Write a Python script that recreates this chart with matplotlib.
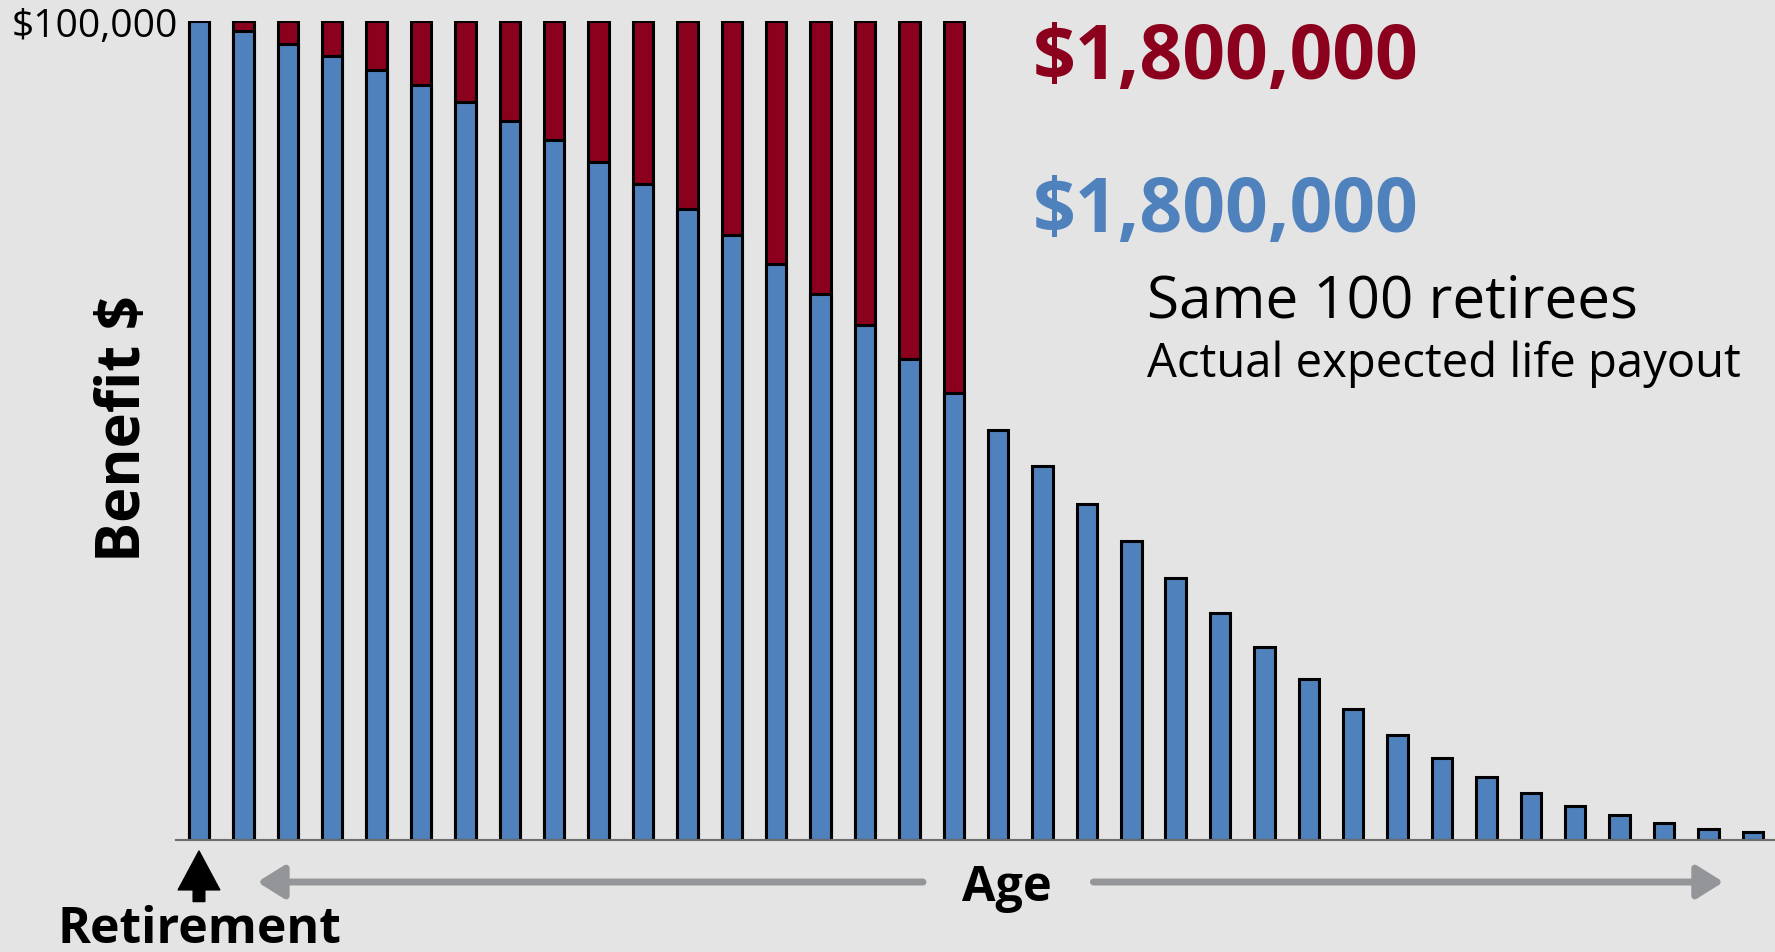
import matplotlib
matplotlib.use("Agg")
import matplotlib.pyplot as plt

# benefit paid in each year after retirement (dollars)
promised_benefit = [100000] * 18 + [0] * 18
expected_benefit = [100000, 98700, 97200, 95700, 94000, 92100, 90100, 87800, 85400,
                    82800, 80100, 77000, 73800, 70300, 66600, 62800, 58700, 54500,
                    50100, 45600, 41000, 36500, 32000, 27700, 23500, 19600, 15950,
                    12800, 10000, 7650, 5700, 4200, 3000, 2100, 1400, 940]
years = list(range(len(expected_benefit)))

promised_total = "$1,800,000"
expected_total = "$1,800,000"

red = "#8B001C"
blue = "#4F81BD"
bg = "#E4E4E4"

plt.rcParams["font.family"] = ["Open Sans", "DejaVu Sans"]

fig = plt.figure(figsize=(17.75, 9.52), dpi=100, facecolor=bg)
ax = fig.add_axes([0.0989, 0.1176, 0.9011, 0.8607])
ax.set_facecolor(bg)

ax.bar(years, promised_benefit, width=0.46, color=red, edgecolor="black", linewidth=2.2, zorder=2)
ax.bar(years, expected_benefit, width=0.46, color=blue, edgecolor="black", linewidth=2.2, zorder=3)

ax.set_xlim(-0.53, 35.5)
ax.set_ylim(0, 100000)
for s in ["top", "right", "left"]:
    ax.spines[s].set_visible(False)
ax.spines["bottom"].set_color("#6d6d6d")
ax.spines["bottom"].set_linewidth(1.5)
ax.spines["bottom"].set_zorder(4)
ax.set_xticks([])
ax.set_yticks([])

fig.text(0.1003, 0.961, "$100,000", fontsize=28, ha="right", va="baseline", color="black")
fig.text(0.0704, 0.550, "Benefit $", fontsize=43, fontweight="bold", rotation=90,
         ha="center", va="center", color="black")

fig.text(0.582, 0.917, promised_total, fontsize=54, fontweight="bold", color=red, va="baseline")
fig.text(0.582, 0.756, expected_total, fontsize=54, fontweight="bold", color=blue, va="baseline")
fig.text(0.646, 0.667, "Same 100 retirees", fontsize=42, color="black", va="baseline")
fig.text(0.646, 0.604, "Actual expected life payout", fontsize=34, color="black", va="baseline")

# age arrows
grey = "#939598"
fig.text(0.567, 0.0536, "Age", fontsize=35, fontweight="bold", ha="center", va="baseline")
ax.annotate("", xy=(0.145, 0.0735), xytext=(0.520, 0.0735), xycoords="figure fraction",
            arrowprops=dict(arrowstyle="-|>,head_length=0.4,head_width=0.25", color=grey,
                            lw=5, mutation_scale=40, shrinkA=0, shrinkB=0))
ax.annotate("", xy=(0.971, 0.0735), xytext=(0.616, 0.0735), xycoords="figure fraction",
            arrowprops=dict(arrowstyle="-|>,head_length=0.4,head_width=0.25", color=grey,
                            lw=5, mutation_scale=40, shrinkA=0, shrinkB=0))

# retirement marker
ax.annotate("", xy=(0.1121, 0.1061), xytext=(0.1121, 0.053), xycoords="figure fraction",
            arrowprops=dict(arrowstyle="simple,head_length=1.4,head_width=1.5,tail_width=0.42",
                            color="black", mutation_scale=20, shrinkA=0, shrinkB=0))
fig.text(0.1121, 0.009, "Retirement", fontsize=36, fontweight="bold", ha="center", va="baseline")

fig.savefig("out.png", dpi=100, facecolor=bg)
